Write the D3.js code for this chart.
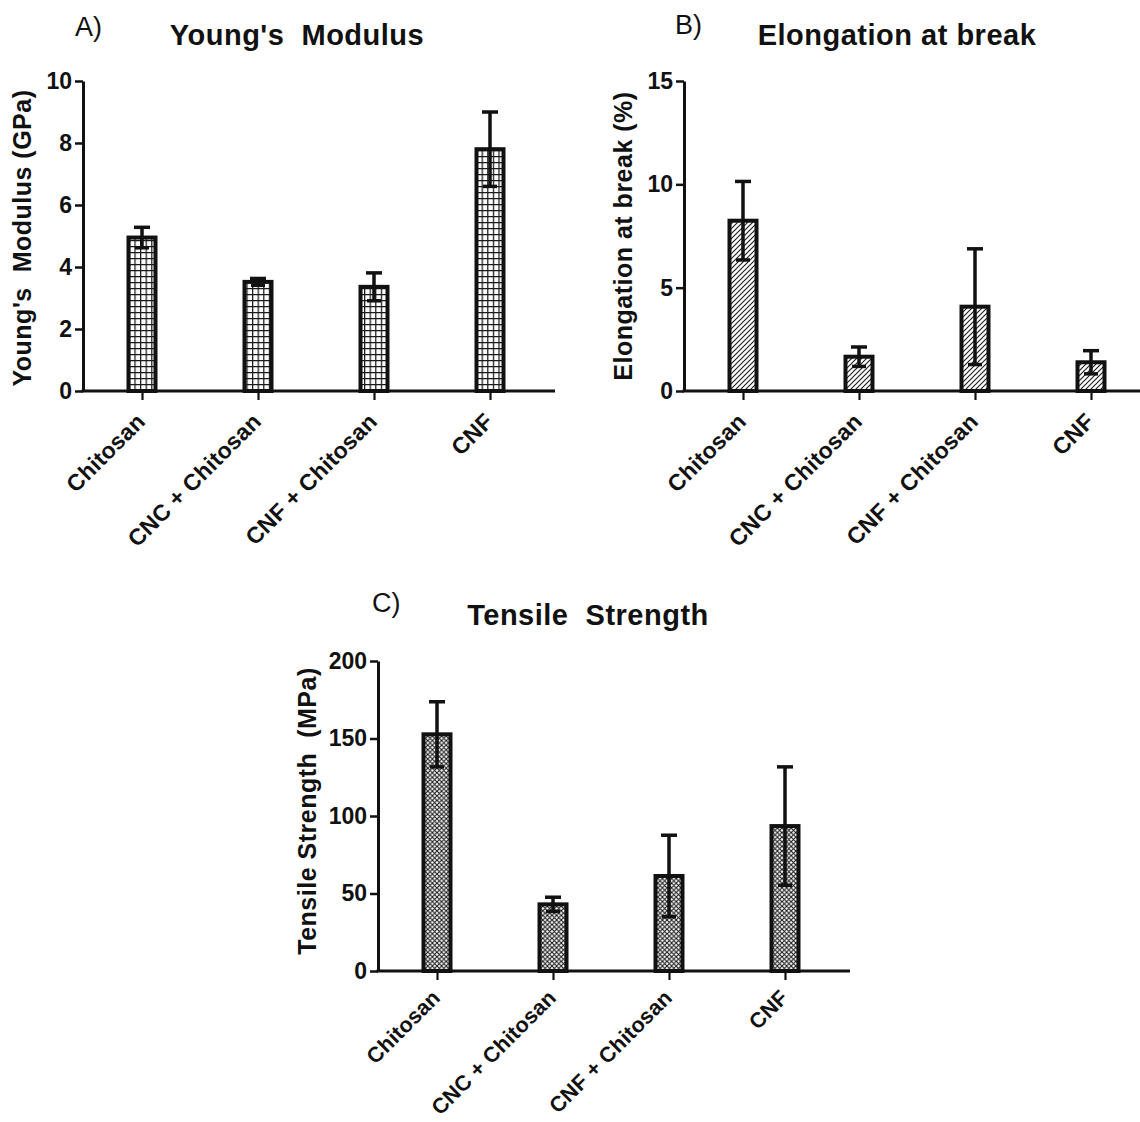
<!DOCTYPE html>
<html>
<head>
<meta charset="utf-8">
<script src="https://cdn.jsdelivr.net/npm/d3@7"></script>
<style>
  body { margin: 0; background: #fff; }
  svg { display: block; font-family: Arial, "Liberation Sans", Helvetica, sans-serif; }
</style>
</head>
<body>
<svg width="1140" height="1122"></svg>
<script>
const categories = ["Chitosan", "CNC + Chitosan", "CNF + Chitosan", "CNF"];

// A) Young's modulus (GPa)
const youngValues = [4.95, 3.52, 3.36, 7.8];
const youngErrors = [0.33, 0.11, 0.45, 1.2];
const youngTicks = [0, 2, 4, 6, 8, 10];

// B) elongation at break (%)
const elongValues = [8.24, 1.66, 4.08, 1.39];
const elongErrors = [1.9, 0.47, 2.8, 0.56];
const elongTicks = [0, 5, 10, 15];

// C) tensile strength (MPa)
const tensileValues = [152.7, 43, 61.3, 93.5];
const tensileErrors = [21, 4.6, 26.3, 38.2];
const tensileTicks = [0, 50, 100, 150, 200];

const ink = "#111";
const fontStack = "Arial, 'Liberation Sans', Helvetica, sans-serif";
const svg = d3.select("svg");
const defs = svg.append("defs");

// grid fill for A
const grid = defs.append("pattern")
  .attr("id", "grid").attr("patternUnits", "userSpaceOnUse")
  .attr("width", 5.6).attr("height", 6);
grid.append("rect").attr("width", 5.6).attr("height", 6).attr("fill", "#fff");
grid.append("path").attr("d", "M0,0.6H5.6M0.6,0V6")
  .attr("stroke", "#1a1a1a").attr("stroke-width", 1.3).attr("fill", "none");

// diagonal hatch for B
const hatch = defs.append("pattern")
  .attr("id", "hatch").attr("patternUnits", "userSpaceOnUse")
  .attr("width", 5).attr("height", 5);
hatch.append("rect").attr("width", 5).attr("height", 5).attr("fill", "#fff");
hatch.append("path").attr("d", "M0,5L5,0M-1,1L1,-1M4,6L6,4")
  .attr("stroke", "#222").attr("stroke-width", 1.2);

// crosshatch for C
const cross = defs.append("pattern")
  .attr("id", "cross").attr("patternUnits", "userSpaceOnUse")
  .attr("width", 4.6).attr("height", 4.6);
cross.append("rect").attr("width", 4.6).attr("height", 4.6).attr("fill", "#fff");
cross.append("path").attr("d", "M0,0L4.6,4.6M4.6,0L0,4.6")
  .attr("stroke", "#1a1a1a").attr("stroke-width", 1.1);

const drawPanel = (cfg, values, errors, ticks) => {
  const g = svg.append("g");

  const x = d3.scalePoint()
    .domain(categories)
    .range([cfg.x0 + 59, cfg.x0 + 407]);

  const y = d3.scaleLinear()
    .domain([0, d3.max(ticks)])
    .range([cfg.yBottom, cfg.yTop]);

  // bars
  g.selectAll("rect.bar")
    .data(values)
    .enter()
    .append("rect")
    .attr("class", "bar")
    .attr("x", (d, i) => x(categories[i]) - 13.5)
    .attr("width", 27)
    .attr("y", (d) => y(d))
    .attr("height", (d) => y(0) - y(d))
    .attr("fill", "url(#" + cfg.pattern + ")")
    .attr("stroke", ink)
    .attr("stroke-width", 4);

  // error bars (up and down, caps both ends)
  const err = g.selectAll("g.err")
    .data(values)
    .enter()
    .append("g")
    .attr("stroke", ink)
    .attr("stroke-width", 3.5);

  err.append("line")
    .attr("x1", (d, i) => x(categories[i]))
    .attr("x2", (d, i) => x(categories[i]))
    .attr("y1", (d, i) => y(d + errors[i]))
    .attr("y2", (d, i) => y(d - errors[i]));
  err.append("line")
    .attr("x1", (d, i) => x(categories[i]) - 8)
    .attr("x2", (d, i) => x(categories[i]) + 8)
    .attr("y1", (d, i) => y(d + errors[i]))
    .attr("y2", (d, i) => y(d + errors[i]));
  err.append("line")
    .attr("x1", (d, i) => x(categories[i]) - 7)
    .attr("x2", (d, i) => x(categories[i]) + 7)
    .attr("y1", (d, i) => y(d - errors[i]))
    .attr("y2", (d, i) => y(d - errors[i]));

  // y axis
  const yAxis = g.append("g")
    .attr("transform", "translate(" + cfg.x0 + ",0)")
    .call(d3.axisLeft(y).tickValues(ticks).tickSize(8).tickSizeOuter(0).tickPadding(3))
    .attr("font-family", fontStack);
  yAxis.select(".domain").attr("stroke", ink).attr("stroke-width", 3);
  yAxis.selectAll(".tick line").attr("stroke", ink).attr("stroke-width", 2.5);
  yAxis.selectAll("text")
    .attr("fill", ink)
    .style("font-size", "23px")
    .style("font-weight", "bold");

  // x axis
  const xAxis = g.append("g")
    .attr("transform", "translate(0," + cfg.yBottom + ")")
    .call(d3.axisBottom(x).tickSize(9).tickSizeOuter(0))
    .attr("font-family", fontStack);
  xAxis.select(".domain").remove();
  xAxis.selectAll(".tick line").attr("stroke", ink).attr("stroke-width", 2.2);
  xAxis.selectAll("text")
    .attr("fill", ink)
    .attr("y", null)
    .attr("dy", null)
    .attr("text-anchor", "end")
    .attr("transform", "translate(4," + cfg.labelDrop + ") rotate(-45)")
    .style("font-size", cfg.catSize + "px")
    .style("font-weight", "bold")
    .style("letter-spacing", "0.2px");
  g.append("line")
    .attr("x1", cfg.x0 - 1.5)
    .attr("x2", cfg.x0 + 472)
    .attr("y1", cfg.yBottom)
    .attr("y2", cfg.yBottom)
    .attr("stroke", ink)
    .attr("stroke-width", 3);

  // titles
  g.append("text")
    .attr("x", cfg.letterX)
    .attr("y", cfg.letterY)
    .attr("fill", ink)
    .style("font-size", "27px")
    .text(cfg.letter);

  g.append("text")
    .attr("x", cfg.titleX)
    .attr("y", cfg.titleY)
    .attr("text-anchor", "middle")
    .attr("fill", ink)
    .style("font-size", "29px")
    .style("font-weight", "bold")
    .style("letter-spacing", "0.5px")
    .style("white-space", "pre")
    .text(cfg.title);

  g.append("text")
    .attr("transform", "translate(" + cfg.labelX + "," + cfg.labelY + ") rotate(-90)")
    .attr("text-anchor", "middle")
    .attr("fill", ink)
    .style("font-size", "25px")
    .style("font-weight", "bold")
    .style("letter-spacing", "0.5px")
    .style("white-space", "pre")
    .text(cfg.label);
};

drawPanel({
  x0: 83, yTop: 81, yBottom: 391, catSize: 23, labelDrop: 32,
  pattern: "grid",
  letter: "A)", letterX: 75, letterY: 36,
  title: "Young's  Modulus", titleX: 297, titleY: 45,
  label: "Young's  Modulus (GPa)", labelX: 31, labelY: 238
}, youngValues, youngErrors, youngTicks);

drawPanel({
  x0: 684, yTop: 81, yBottom: 391, catSize: 23, labelDrop: 32,
  pattern: "hatch",
  letter: "B)", letterX: 675, letterY: 34,
  title: "Elongation at break", titleX: 897, titleY: 45,
  label: "Elongation at break (%)", labelX: 632, labelY: 236
}, elongValues, elongErrors, elongTicks);

drawPanel({
  x0: 378, yTop: 661, yBottom: 971, catSize: 21.5, labelDrop: 28,
  pattern: "cross",
  letter: "C)", letterX: 372, letterY: 612,
  title: "Tensile  Strength", titleX: 588, titleY: 625,
  label: "Tensile Strength  (MPa)", labelX: 316, labelY: 811
}, tensileValues, tensileErrors, tensileTicks);
</script>
</body>
</html>
